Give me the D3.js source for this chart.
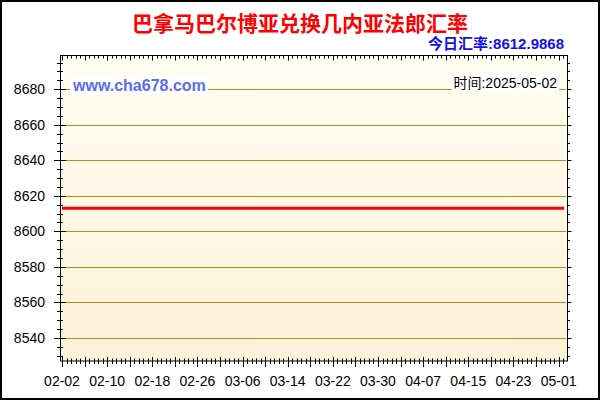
<!DOCTYPE html>
<html><head><meta charset="utf-8">
<script src="https://cdn.jsdelivr.net/npm/d3@7/dist/d3.min.js"></script>
<style>body{margin:0;background:#fff}svg{display:block}</style>
</head><body>
<svg id="c" width="600" height="400"></svg>
<script>
const titleText = "巴拿马巴尔博亚兑换几内亚法郎汇率";
const rateText = "今日汇率:8612.9868";
const siteText = "www.cha678.com";
const timeText = "时间:2025-05-02";
const dates = ["2025-02-02","2025-02-03","2025-02-04","2025-02-05","2025-02-06","2025-02-07","2025-02-08","2025-02-09","2025-02-10","2025-02-11","2025-02-12","2025-02-13","2025-02-14","2025-02-15","2025-02-16","2025-02-17","2025-02-18","2025-02-19","2025-02-20","2025-02-21","2025-02-22","2025-02-23","2025-02-24","2025-02-25","2025-02-26","2025-02-27","2025-02-28","2025-03-01","2025-03-02","2025-03-03","2025-03-04","2025-03-05","2025-03-06","2025-03-07","2025-03-08","2025-03-09","2025-03-10","2025-03-11","2025-03-12","2025-03-13","2025-03-14","2025-03-15","2025-03-16","2025-03-17","2025-03-18","2025-03-19","2025-03-20","2025-03-21","2025-03-22","2025-03-23","2025-03-24","2025-03-25","2025-03-26","2025-03-27","2025-03-28","2025-03-29","2025-03-30","2025-03-31","2025-04-01","2025-04-02","2025-04-03","2025-04-04","2025-04-05","2025-04-06","2025-04-07","2025-04-08","2025-04-09","2025-04-10","2025-04-11","2025-04-12","2025-04-13","2025-04-14","2025-04-15","2025-04-16","2025-04-17","2025-04-18","2025-04-19","2025-04-20","2025-04-21","2025-04-22","2025-04-23","2025-04-24","2025-04-25","2025-04-26","2025-04-27","2025-04-28","2025-04-29","2025-04-30","2025-05-01","2025-05-02"];
const values = [8612.9868,8612.9868,8612.9868,8612.9868,8612.9868,8612.9868,8612.9868,8612.9868,8612.9868,8612.9868,8612.9868,8612.9868,8612.9868,8612.9868,8612.9868,8612.9868,8612.9868,8612.9868,8612.9868,8612.9868,8612.9868,8612.9868,8612.9868,8612.9868,8612.9868,8612.9868,8612.9868,8612.9868,8612.9868,8612.9868,8612.9868,8612.9868,8612.9868,8612.9868,8612.9868,8612.9868,8612.9868,8612.9868,8612.9868,8612.9868,8612.9868,8612.9868,8612.9868,8612.9868,8612.9868,8612.9868,8612.9868,8612.9868,8612.9868,8612.9868,8612.9868,8612.9868,8612.9868,8612.9868,8612.9868,8612.9868,8612.9868,8612.9868,8612.9868,8612.9868,8612.9868,8612.9868,8612.9868,8612.9868,8612.9868,8612.9868,8612.9868,8612.9868,8612.9868,8612.9868,8612.9868,8612.9868,8612.9868,8612.9868,8612.9868,8612.9868,8612.9868,8612.9868,8612.9868,8612.9868,8612.9868,8612.9868,8612.9868,8612.9868,8612.9868,8612.9868,8612.9868,8612.9868,8612.9868,8612.9868];
const xTickLabels = ["02-02","02-10","02-18","02-26","03-06","03-14","03-22","03-30","04-07","04-15","04-23","05-01"];
const yTicks = [8540,8560,8580,8600,8620,8640,8660,8680];

const svg = d3.select("#c");
const parse = d3.timeParse("%Y-%m-%d");
const data = dates.map((d,i)=>({date:parse(d), v:values[i]}));
const L=60.5, R=567.5, T=55.5, B=361;
const x = d3.scaleTime().domain([parse(dates[0]), parse(dates[dates.length-1])]).range([62, 564.2]);
const y = d3.scaleLinear().domain([8527, 8699]).range([B, T]);

// outer border
svg.append("rect").attr("x",1).attr("y",1).attr("width",598).attr("height",398)
  .attr("fill","#fff").attr("stroke","#000").attr("stroke-width",2);

const defs = svg.append("defs");
const g = defs.append("linearGradient").attr("id","bg").attr("x1",0).attr("y1",0).attr("x2",0).attr("y2",1);
g.append("stop").attr("offset","0%").attr("stop-color","#fffef3");
g.append("stop").attr("offset","100%").attr("stop-color","#fdf1d8");
svg.append("rect").attr("x",L).attr("y",T).attr("width",R-L).attr("height",B-T).attr("fill","url(#bg)");

// gridlines
svg.append("g").selectAll("line").data(yTicks).join("line")
  .attr("x1",63).attr("x2",566).attr("y1",d=>Math.round(y(d))+0.5).attr("y2",d=>Math.round(y(d))+0.5)
  .attr("stroke","#c08c10").attr("stroke-width",1);

// frame
svg.append("rect").attr("x",L).attr("y",T).attr("width",R-L).attr("height",B-T)
  .attr("fill","none").attr("stroke","#000").attr("stroke-width",1);

// y ticks (minor every 5)
const yMinor = d3.range(8530, 8699, 5);
const tk = svg.append("g").attr("stroke","#000").attr("stroke-width",1);
yMinor.forEach(v=>{
  const major = v%20===0;
  const yy = Math.round(y(v))+0.5;
  tk.append("line").attr("x1",major?54:57).attr("x2",major?66:63).attr("y1",yy).attr("y2",yy);
  tk.append("line").attr("x1",R).attr("x2",R+(major?4:2.5)).attr("y1",yy).attr("y2",yy);
});
// x ticks: major every 4 days, 5 minor subdivisions
const d0 = parse(dates[0]);
const pxPerDay = x(d3.timeDay.offset(d0,1)) - x(d0);
for (let k=0; k*0.8 <= 90; k++) {
  const xx = Math.round(x(d0) + k*0.8*pxPerDay) + 0.5;
  if (xx > R-1) break;
  const major = k%5===0;
  tk.append("line").attr("x1",xx).attr("x2",xx).attr("y1",major?357:358.5).attr("y2",major?367:364);
  tk.append("line").attr("x1",xx).attr("x2",xx).attr("y1",T).attr("y2",T+(major?5:3));
}

// y labels
svg.append("g").selectAll("text").data(yTicks).join("text")
  .attr("x",45).attr("y",d=>y(d)+5).attr("text-anchor","end")
  .attr("font-family","Liberation Sans, Arial, sans-serif").attr("font-size",14).attr("fill","#000")
  .text(d=>d);

// x labels
svg.append("g").selectAll("text").data(xTickLabels).join("text")
  .attr("x",(d,i)=>x(d3.timeDay.offset(d0,i*8))).attr("y",385.5).attr("text-anchor","middle")
  .attr("font-family","Liberation Sans, Arial, sans-serif").attr("font-size",14).attr("fill","#000")
  .text(d=>d);

// site label with white background
const siteBg = svg.append("rect").attr("fill","#fff");
const site = svg.append("text").attr("x",73).attr("y",91)
  .attr("font-family","Liberation Sans, Arial, sans-serif").attr("font-size",16).attr("font-weight","bold")
  .attr("fill","#5b6cf3").text(siteText);
const sb = site.node().getBBox();
siteBg.attr("x",sb.x-2).attr("y",sb.y).attr("width",sb.width+4).attr("height",sb.height);

const timeBg = svg.append("rect").attr("fill","#fff");
const tt = svg.append("text").attr("x",557).attr("y",87.5).attr("text-anchor","end")
  .attr("font-family","Liberation Sans, Noto Sans CJK SC, sans-serif").attr("font-size",14)
  .attr("fill","#000").text(timeText);
const tb = tt.node().getBBox();
timeBg.attr("x",tb.x-2).attr("y",tb.y).attr("width",tb.width+4).attr("height",tb.height);

// line
svg.append("path").datum(data)
  .attr("d", d3.line().x(d=>x(d.date)).y(d=>y(d.v)))
  .attr("fill","none").attr("stroke","#ff0000").attr("stroke-width",3);

// title
svg.append("text").attr("x",300).attr("y",31).attr("text-anchor","middle")
  .attr("font-family","Noto Sans CJK SC, sans-serif").attr("font-size",21).attr("font-weight","bold")
  .attr("fill","#ff0000").text(titleText);
svg.append("text").attr("x",564).attr("y",48.5).attr("text-anchor","end")
  .attr("font-family","Liberation Sans, Noto Sans CJK SC, sans-serif").attr("font-size",15).attr("font-weight","bold")
  .attr("fill","#1010ee").text(rateText);
</script>
</body></html>
